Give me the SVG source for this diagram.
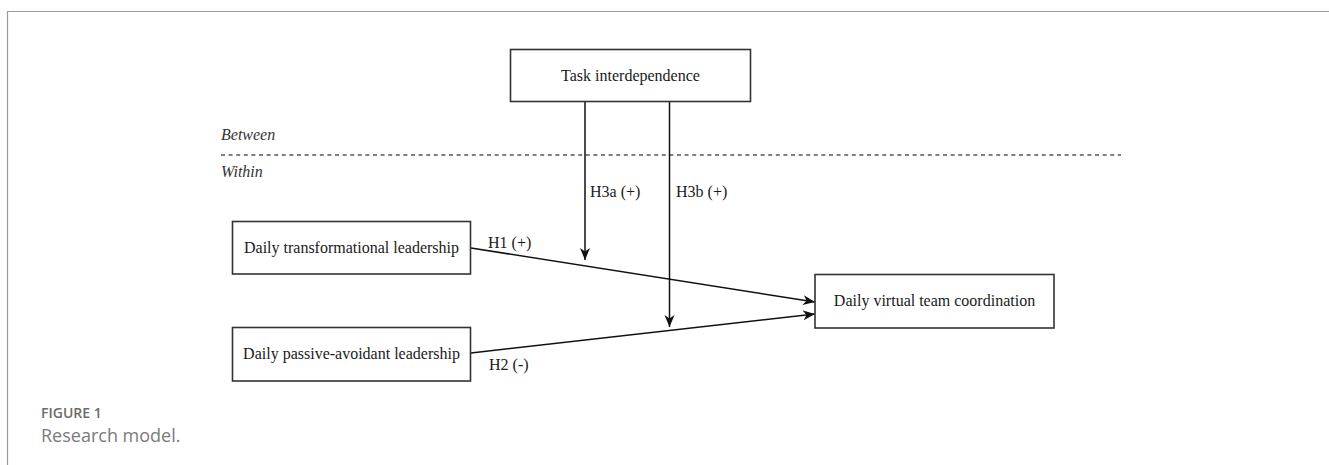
<svg xmlns="http://www.w3.org/2000/svg" width="1329" height="465" viewBox="0 0 1329 465">
<style>
.box{fill:#fff;stroke:#333;stroke-width:1.6}
.t{font-family:"Liberation Serif","Times New Roman",serif;font-size:16px;fill:#1a1a1a}
.c{text-anchor:middle}
.it{font-style:italic;fill:#333}
.con{stroke:#111;stroke-width:1.5;fill:none}
.cap1{font-family:"Open Sans","Noto Sans",sans-serif;font-size:14px;font-weight:600;fill:#6b6b6b}
.cap2{font-family:"Open Sans","Noto Sans",sans-serif;font-size:18px;fill:#7a7a7a}
</style>
<defs>
<marker id="arr" markerUnits="userSpaceOnUse" markerWidth="14" markerHeight="12" refX="12" refY="5" orient="auto">
<path d="M0,0 L12,5 L0,10 L3.5,5 Z" fill="#111"/>
</marker>
</defs>
<rect width="1329" height="465" fill="#fff"/>
<path d="M7.5,465 L7.5,11.5 L1329,11.5" fill="none" stroke="#9a9a9a" stroke-width="1.2"/>
<g id="levels">
<text class="t it" x="221" y="140">Between</text>
<line x1="221" y1="155" x2="1121" y2="155" stroke="#555" stroke-width="1.5" stroke-dasharray="4 3.6"/>
<text class="t it" x="221" y="177">Within</text>
</g>
<g id="connectors">
<line class="con" x1="585" y1="102" x2="585" y2="260" marker-end="url(#arr)"/>
<line class="con" x1="669.5" y1="102" x2="669.5" y2="327" marker-end="url(#arr)"/>
<line class="con" x1="471" y1="248" x2="815" y2="302" marker-end="url(#arr)"/>
<line class="con" x1="471" y1="353" x2="815" y2="314" marker-end="url(#arr)"/>
<text class="t" x="590" y="197">H3a (+)</text>
<text class="t" x="676" y="197">H3b (+)</text>
<text class="t" x="488" y="248">H1 (+)</text>
<text class="t" x="489" y="370">H2 (-)</text>
</g>
<g id="task">
<rect class="box" x="510.5" y="49.5" width="240" height="52"/>
<text class="t c" x="630.5" y="80.5">Task interdependence</text>
</g>
<g id="transformational">
<rect class="box" x="232.5" y="221.5" width="238" height="52.5"/>
<text class="t c" x="351.5" y="253">Daily transformational leadership</text>
</g>
<g id="passive">
<rect class="box" x="232.5" y="327.5" width="238" height="53.5"/>
<text class="t c" x="351.5" y="359">Daily passive-avoidant leadership</text>
</g>
<g id="coordination">
<rect class="box" x="815" y="274.5" width="239" height="53.5"/>
<text class="t c" x="934.5" y="306">Daily virtual team coordination</text>
</g>
<g id="caption">
<text class="cap1" x="41" y="418">FIGURE 1</text>
<text class="cap2" x="41" y="442">Research model.</text>
</g>
</svg>
